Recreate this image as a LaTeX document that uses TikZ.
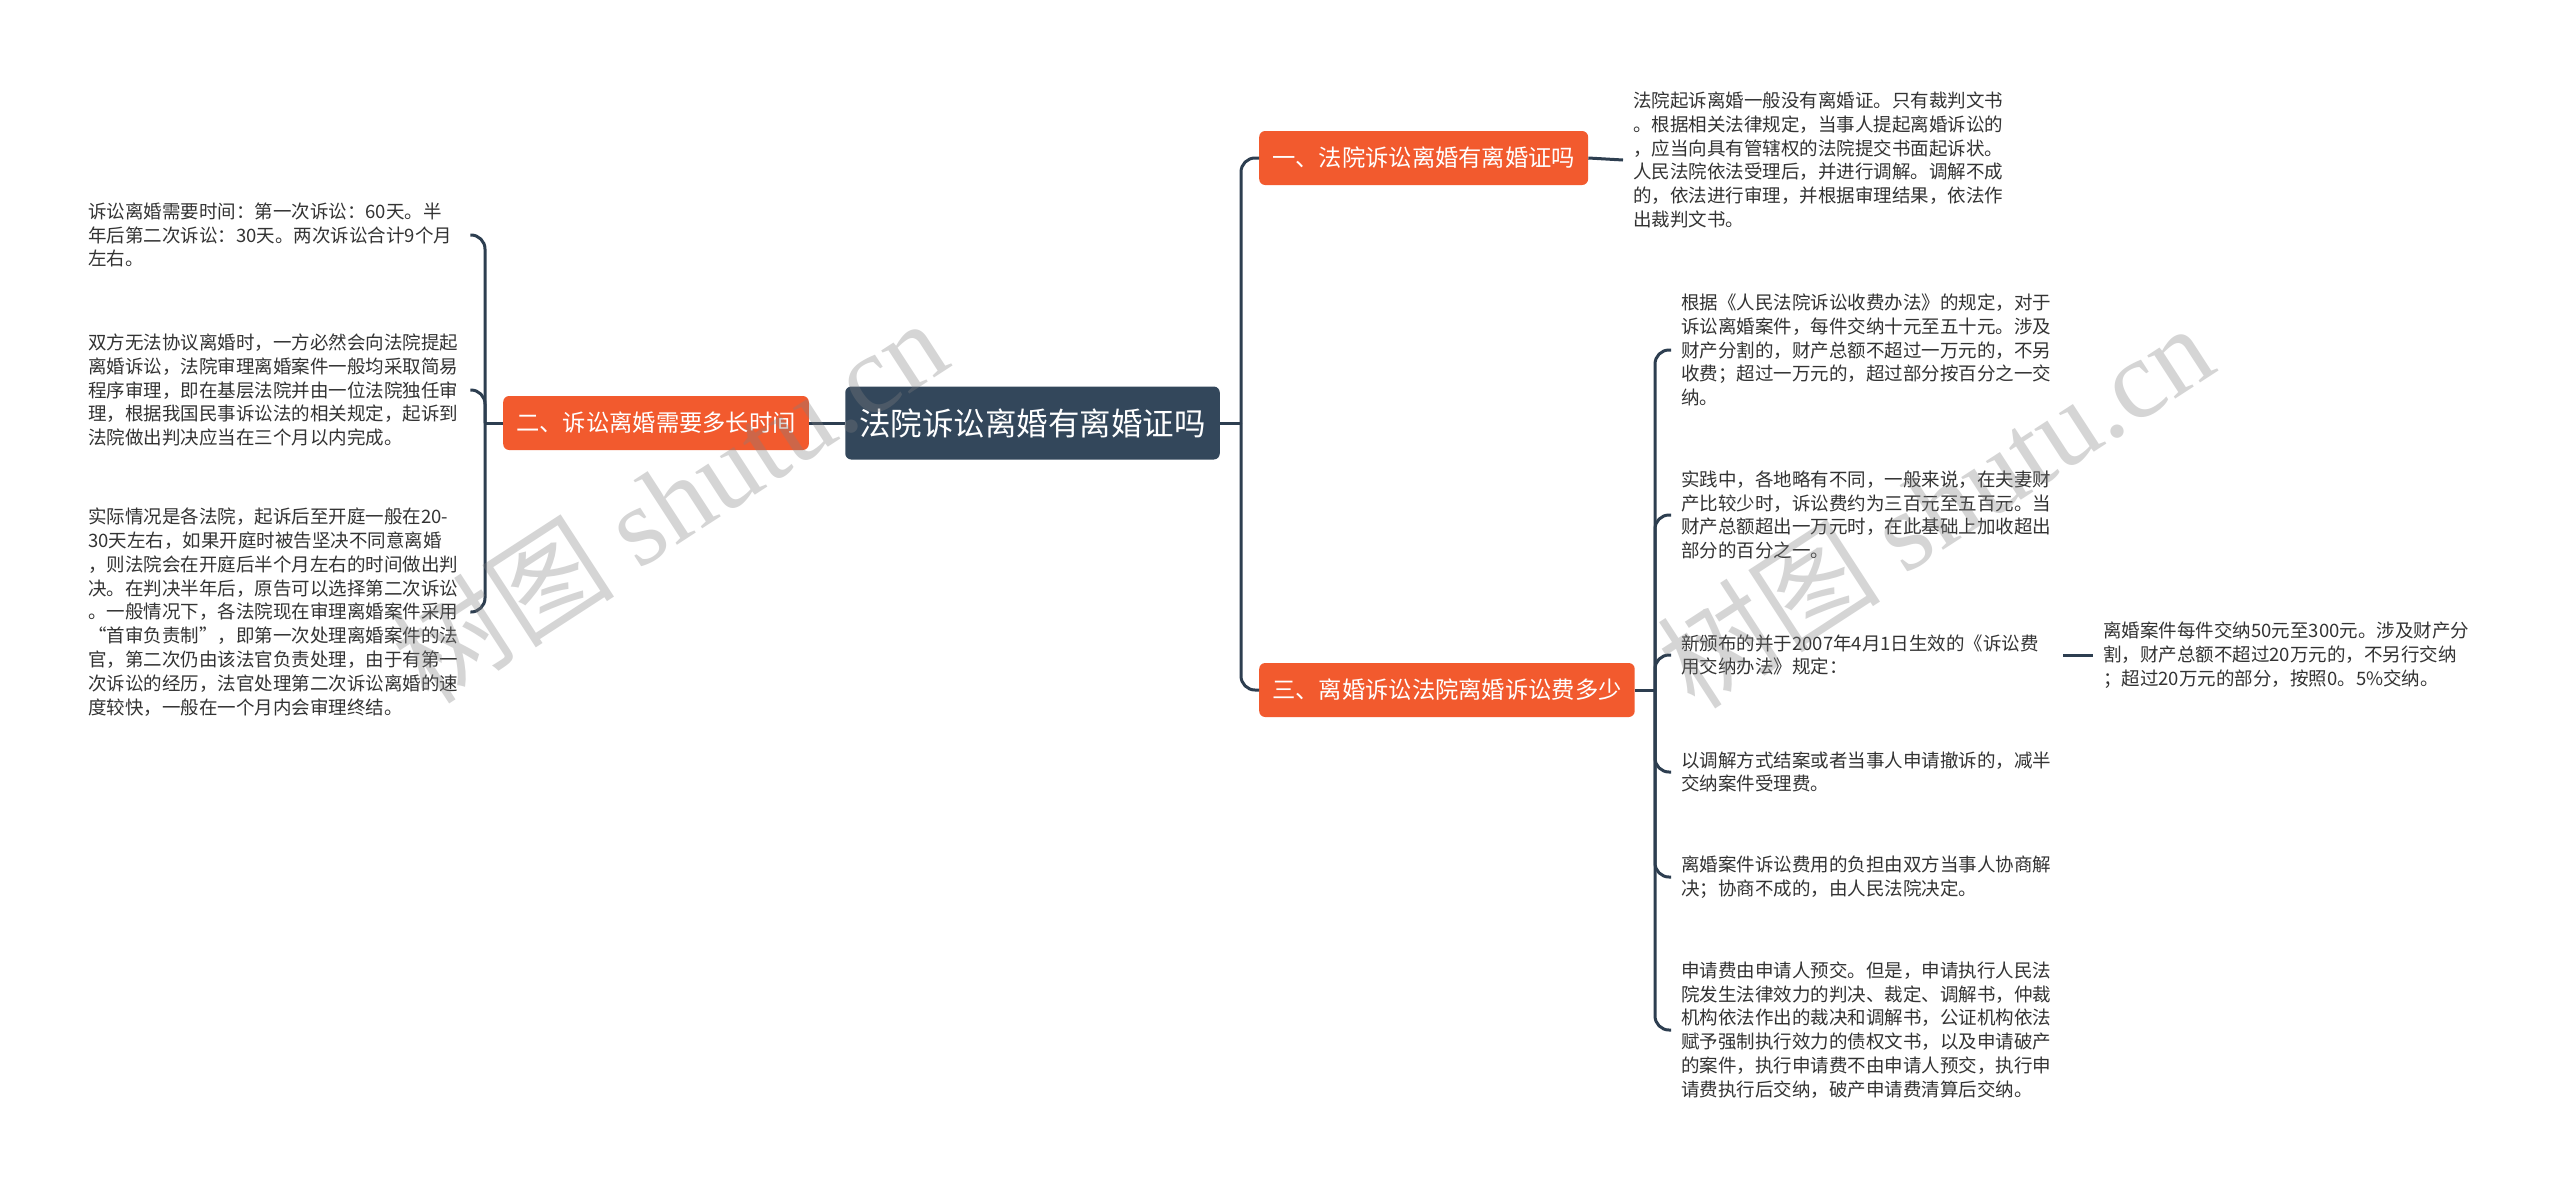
\documentclass[tikz,border=0pt]{standalone}
\usepackage{fontspec}
\setmainfont{Noto Sans CJK SC}
\newfontfamily\wmfont{Liberation Serif}
\definecolor{rootC}{HTML}{33475B}
\definecolor{orangeC}{HTML}{F25A2E}
\definecolor{lineC}{HTML}{2D3E50}
\definecolor{textC}{HTML}{333333}
\tikzset{
  conn/.style={draw=lineC, line width=3pt},
  rc/.style={conn, rounded corners=14pt},
  rootbox/.style={fill=rootC, text=white, rounded corners=6pt, inner xsep=14pt, minimum height=73pt, font=\fontsize{31.5}{36}\selectfont},
  branchbox/.style={fill=orangeC, text=white, rounded corners=6pt, inner xsep=13pt, minimum height=54pt, font=\fontsize{23.3}{28}\selectfont},
  leafbox/.style={text=textC, text width=372pt, align=left, inner xsep=10pt, inner ysep=2pt, anchor=west, font=\fontsize{18.5}{23.8}\selectfont},
  wmark/.style={text=gray, text opacity=0.33, rotate=33, font=\fontsize{112}{112}\selectfont}
}
\begin{document}
\begin{tikzpicture}[x=1pt,y=-1pt]
\useasboundingbox[fill=white] (0,0) rectangle (2560,1189);

% root and branches
\node[rootbox] (C) at (1032.5,423) {法院诉讼离婚有离婚证吗};
\node[branchbox] (B2) at (656,423) {二、诉讼离婚需要多长时间};
\node[branchbox, anchor=west] (B1) at (1259,158) {一、法院诉讼离婚有离婚证吗};
\node[branchbox, anchor=west] (B3) at (1259,690) {三、离婚诉讼法院离婚诉讼费多少};

% left leaves
\node[leafbox] (L1) at (78,235) {诉讼离婚需要时间：第一次诉讼：60天。半\\年后第二次诉讼：30天。两次诉讼合计9个月\\左右。};
\node[leafbox] (L2) at (78,390) {双方无法协议离婚时，一方必然会向法院提起\\离婚诉讼，法院审理离婚案件一般均采取简易\\程序审理，即在基层法院并由一位法院独任审\\理，根据我国民事诉讼法的相关规定，起诉到\\法院做出判决应当在三个月以内完成。};
\node[leafbox] (L3) at (78,612) {实际情况是各法院，起诉后至开庭一般在20-\\30天左右，如果开庭时被告坚决不同意离婚\\，则法院会在开庭后半个月左右的时间做出判\\决。在判决半年后，原告可以选择第二次诉讼\\。一般情况下，各法院现在审理离婚案件采用\\“首审负责制”，即第一次处理离婚案件的法\\官，第二次仍由该法官负责处理，由于有第一\\次诉讼的经历，法官处理第二次诉讼离婚的速\\度较快，一般在一个月内会审理终结。};

% right leaves
\node[leafbox] (R1) at (1623,160) {法院起诉离婚一般没有离婚证。只有裁判文书\\。根据相关法律规定，当事人提起离婚诉讼的\\，应当向具有管辖权的法院提交书面起诉状。\\人民法院依法受理后，并进行调解。调解不成\\的，依法进行审理，并根据审理结果，依法作\\出裁判文书。};
\node[leafbox] (R3a) at (1671,350) {根据《人民法院诉讼收费办法》的规定，对于\\诉讼离婚案件，每件交纳十元至五十元。涉及\\财产分割的，财产总额不超过一万元的，不另\\收费；超过一万元的，超过部分按百分之一交\\纳。};
\node[leafbox] (R3b) at (1671,515) {实践中，各地略有不同，一般来说，在夫妻财\\产比较少时，诉讼费约为三百元至五百元。当\\财产总额超出一万元时，在此基础上加收超出\\部分的百分之一。};
\node[leafbox] (R3c) at (1671,655) {新颁布的并于2007年4月1日生效的《诉讼费\\用交纳办法》规定：};
\node[leafbox] (R3cc) at (2093,655) {离婚案件每件交纳50元至300元。涉及财产分\\割，财产总额不超过20万元的，不另行交纳\\；超过20万元的部分，按照0。5\%交纳。};
\node[leafbox] (R3d) at (1671,772) {以调解方式结案或者当事人申请撤诉的，减半\\交纳案件受理费。};
\node[leafbox] (R3e) at (1671,877) {离婚案件诉讼费用的负担由双方当事人协商解\\决；协商不成的，由人民法院决定。};
\node[leafbox] (R3f) at (1671,1030) {申请费由申请人预交。但是，申请执行人民法\\院发生法律效力的判决、裁定、调解书，仲裁\\机构依法作出的裁决和调解书，公证机构依法\\赋予强制执行效力的债权文书，以及申请破产\\的案件，执行申请费不由申请人预交，执行申\\请费执行后交纳，破产申请费清算后交纳。};

% junctions
\coordinate (lj) at (485,423);
\coordinate (rj) at (1241,423);
\coordinate (sj) at (1655,690);

% connectors
\draw[conn] (C.west) -- (B2.east);
\draw[conn] (B2.west) -- (lj);
\foreach \n in {L1,L2,L3} \draw[rc] (lj) |- (\n.east);
\draw[conn] (C.east) -- (rj);
\draw[rc] (rj) |- (B1.west);
\draw[rc] (rj) |- (B3.west);
\draw[conn] (B1.east) -- (R1.west);
\draw[conn] (B3.east) -- (sj);
\foreach \n in {R3a,R3b,R3c,R3d,R3e,R3f} \draw[rc] (sj) |- (\n.west);
\draw[conn] (R3c.east) -- (R3cc.west);

% watermarks
\node[wmark] (W1) at (669,500) {树图 {\wmfont shutu.cn}};
\node[wmark] (W2) at (1935,505) {树图 {\wmfont shutu.cn}};
\end{tikzpicture}
\end{document}
